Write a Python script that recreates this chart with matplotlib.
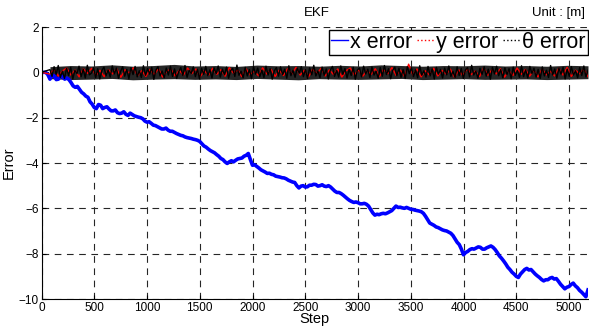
import numpy as np
import matplotlib
matplotlib.use("Agg")
import matplotlib.pyplot as plt
from matplotlib.lines import Line2D

plt.rcParams['font.family'] = ['Liberation Sans', 'DejaVu Sans']

x_err = [0, 0, 0, -0.1, -0.3, -0.12, -0.15, -0.32, -0.3, -0.14,
         -0.2, -0.3, -0.25, -0.32, -0.45, -0.6, -0.66, -0.62, -0.75, -0.88,
         -0.95, -1.05, -1.1, -1.3, -1.4, -1.55, -1.6, -1.42, -1.45, -1.6,
         -1.55, -1.52, -1.62, -1.7, -1.7, -1.66, -1.78, -1.82, -1.8, -1.74,
         -1.85, -1.9, -1.8, -1.86, -1.92, -1.95, -1.98, -2.0, -2.05, -2.15,
         -2.2, -2.18, -2.25, -2.33, -2.35, -2.4, -2.45, -2.5, -2.5, -2.46,
         -2.55, -2.6, -2.6, -2.65, -2.7, -2.74, -2.78, -2.8, -2.85, -2.88,
         -2.9, -2.92, -2.95, -2.97, -3.0, -3.05, -3.15, -3.25, -3.3, -3.38,
         -3.45, -3.5, -3.55, -3.63, -3.7, -3.8, -3.85, -3.95, -4.02, -3.95,
         -3.9, -3.95, -3.88, -3.82, -3.8, -3.78, -3.7, -3.66, -3.58, -3.85,
         -4.1, -4.08, -4.15, -4.22, -4.3, -4.35, -4.4, -4.46, -4.45, -4.5,
         -4.52, -4.58, -4.6, -4.62, -4.65, -4.66, -4.7, -4.76, -4.8, -4.84,
         -4.86, -5.0, -5.1, -5.02, -5.0, -5.06, -5.05, -4.98, -4.98, -4.94,
         -4.95, -5.02, -5.0, -4.96, -5.02, -5.04, -5.0, -5.06, -5.15, -5.24,
         -5.3, -5.3, -5.35, -5.42, -5.5, -5.58, -5.65, -5.7, -5.74, -5.72,
         -5.75, -5.8, -5.8, -5.78, -5.82, -5.9, -6.05, -6.2, -6.3, -6.26,
         -6.28, -6.24, -6.22, -6.24, -6.2, -6.15, -6.1, -6.0, -5.9, -5.96,
         -5.95, -5.98, -6.0, -5.96, -6.0, -6.04, -6.05, -6.08, -6.1, -6.12,
         -6.15, -6.22, -6.35, -6.5, -6.65, -6.7, -6.75, -6.82, -6.85, -6.9,
         -6.95, -6.98, -7.0, -7.05, -7.1, -7.2, -7.35, -7.5, -7.6, -7.8,
         -8.05, -7.95, -7.9, -7.82, -7.78, -7.8, -7.75, -7.7, -7.72, -7.8,
         -7.8, -7.74, -7.7, -7.66, -7.72, -7.82, -7.95, -8.1, -8.2, -8.32,
         -8.45, -8.6, -8.7, -8.82, -8.9, -9.0, -9.05, -8.9, -8.8, -8.7,
         -8.65, -8.72, -8.7, -8.8, -8.9, -8.98, -9.05, -9.14, -9.2, -9.15,
         -9.15, -9.08, -9.05, -9.12, -9.1, -9.22, -9.35, -9.45, -9.55, -9.48,
         -9.45, -9.36, -9.3, -9.42, -9.5, -9.62, -9.7, -9.8, -9.9, -9.6]
x_steps = np.arange(len(x_err)) * 20

# y error (x100), noise band around zero
y_err_c = [-8, 14, -17, 6, 19, -12, 10, -20, 15, -5, 18, -14, 9, -19, 12, -7, 16, -22, 11, -3,
           20, -15, 7, -18, 13, -10, 17, -21, 5, 14, -16, 9, -12, 19, -6, 15, -20, 8, -13, 18,
           -9, 12, -17, 21, -4, 11, -19, 16, -11, 6, -15, 20, -8, 13, -18, 10, -14, 17, -7, 22,
           -12, 9, -20, 14, -5, 18, -16, 11, -10, 15, -21, 7, 19, -13, 12, -17, 8, -9, 16, -19,
           13, -6, 21, -14, 10, -18, 36, -11, 15, -20, 7, -12, 18, -16, 9, -8, 14, -22, 11, -15,
           17, -10, 6, -19, 20, -13, 12, -7, 16, -21, 8, -14, 19, -9, 13, -17, 10, -20, 15, -11,
           5, -16, 18, -12, 22, -18, 9, -6, 14, -19]

# theta error (x100)
th_err_c = [12, -18, 25, -9, 30, -22, 5, -27, 18, -14, 22, -30, 9, -6, 27, -19, 14, -25, 31, -11,
            -3, 20, -24, 16, -29, 8, 23, -15, 11, -21, 28, -7, 19, -26, 4, 24, -17, 13, -28, 21,
            -10, 26, -20, 7, -23, 29, -13, 17, -8, 22, -31, 10, 25, -16, 6, -24, 19, -12, 27, -18,
            15, -27, 3, 21, -14, 30, -22, 9, -5, 24, -19, 13, -29, 18, -9, 26, -15, 11, -25, 20,
            -6, 28, -21, 14, -11, 23, -26, 8, 17, -18, 32, -13, 5, -24, 22, -16, 12, -28, 25, -8,
            19, -20, 10, -23, 27, -12, 16, -30, 7, 21, -17, 24, -10, 14, -26, 29, -15, 9, -22, 18,
            -4, 25, -19, 12, -27, 20, -11, 31, -16, 6, -24, 23, -13, 15, -29, 11, 26, -18, 8, -21,
            28, -9, 17, -25, 13, -14, 22, -30, 10, 19, -20, 27, -7, 14, -23, 24, -12, 5, -26, 21,
            -17, 30, -10, 16, -28, 9, 23, -15, 18, -22, 12, -27, 25, -6, 20, -19, 11, -24, 29, -13,
            7, -21, 26, -16, 15, -29, 22, -8, 13, -25, 19, -11, 28, -18, 4, -23, 24, -14, 17, -27,
            10, 21, -20, 31, -12, 6, -26, 18, -9, 25, -17, 14, -30, 22, -7, 27, -15, 12, -24, 20,
            -10, 16, -28, 23, -13, 8, -22, 29, -19, 11, -25, 26, -5, 18, -21, 13, -27, 24, -16, 9,
            -23, 30, -11, 15, -26, 19, -8, 22, -29, 14, -18, 25, -12, 7, -24, 21, -14, 28, -20, 10]

# envelope of the dense theta band, every 200 steps from step 80
band_hi = [0.25, 0.30, 0.28, 0.33, 0.27, 0.30, 0.35, 0.28, 0.30, 0.26, 0.32, 0.29, 0.30,
           0.27, 0.31, 0.28, 0.33, 0.30, 0.27, 0.30, 0.29, 0.32, 0.28, 0.30, 0.27, 0.31, 0.29]
band_lo = [-0.28, -0.32, -0.30, -0.27, -0.33, -0.30, -0.28, -0.31, -0.29, -0.32, -0.27, -0.30, -0.33,
           -0.28, -0.30, -0.31, -0.29, -0.27, -0.32, -0.30, -0.28, -0.31, -0.30, -0.29, -0.32, -0.30, -0.28]

y_steps = np.concatenate([[0], np.linspace(80, 5180, len(y_err_c))])
y_err = np.concatenate([[0], np.array(y_err_c) / 100.0])
th_steps = np.concatenate([[0], np.linspace(80, 5180, len(th_err_c))])
th_err = np.concatenate([[0], np.array(th_err_c) / 100.0])
band_steps = np.linspace(80, 5180, len(band_hi))

fig = plt.figure(figsize=(5.89, 3.35), dpi=100)
ax = fig.add_axes([41.5 / 589, 1 - 299 / 335, (588 - 41.5) / 589, (299 - 27) / 335])

ax.plot(x_steps, x_err, color="#0000ff", lw=2.6)
ax.plot(y_steps, y_err, color="#ff0000", lw=1.0)
ax.fill_between(band_steps, band_lo, band_hi, color="black", alpha=0.85, lw=0)
ax.plot(th_steps, th_err, color="black", lw=1.0)

ax.set_xlim(0, 5180)
ax.set_ylim(-10, 2)
ax.set_xticks(np.arange(0, 5001, 500))
ax.set_yticks(np.arange(-10, 3, 2))
ax.tick_params(direction="in", labelsize=8.5, length=3, pad=2)
ax.grid(True, color="0.15", linestyle=(0, (6, 5)), lw=0.8)
for s in ("top", "right"):
    ax.spines[s].set_visible(False)

ax.set_xlabel("Step", fontsize=10.5, labelpad=-1)
ax.set_ylabel("Error", fontsize=10.5, labelpad=2)
fig.text(317 / 589, 1 - 13 / 335, "EKF", ha="center", va="center", fontsize=9.5)
fig.text(585 / 589, 1 - 13 / 335, "Unit : [m]", ha="right", va="center", fontsize=9.5)

handles = [Line2D([], [], color="#0000ff", lw=1),
           Line2D([], [], color="#ff0000", lw=1, ls=":"),
           Line2D([], [], color="black", lw=1, ls=":")]
leg = ax.legend(handles, ["x error", "y error", "\u03b8 error"], ncol=3,
                loc="upper right", bbox_to_anchor=(1.0, 0.99), fontsize=15.5,
                handlelength=0.8, handletextpad=0.1, columnspacing=0.2,
                borderpad=0.1, borderaxespad=0.0, fancybox=False, framealpha=1)
leg.get_frame().set_edgecolor("black")
leg.get_frame().set_linewidth(1.0)

fig.savefig("out.png", dpi=100)
